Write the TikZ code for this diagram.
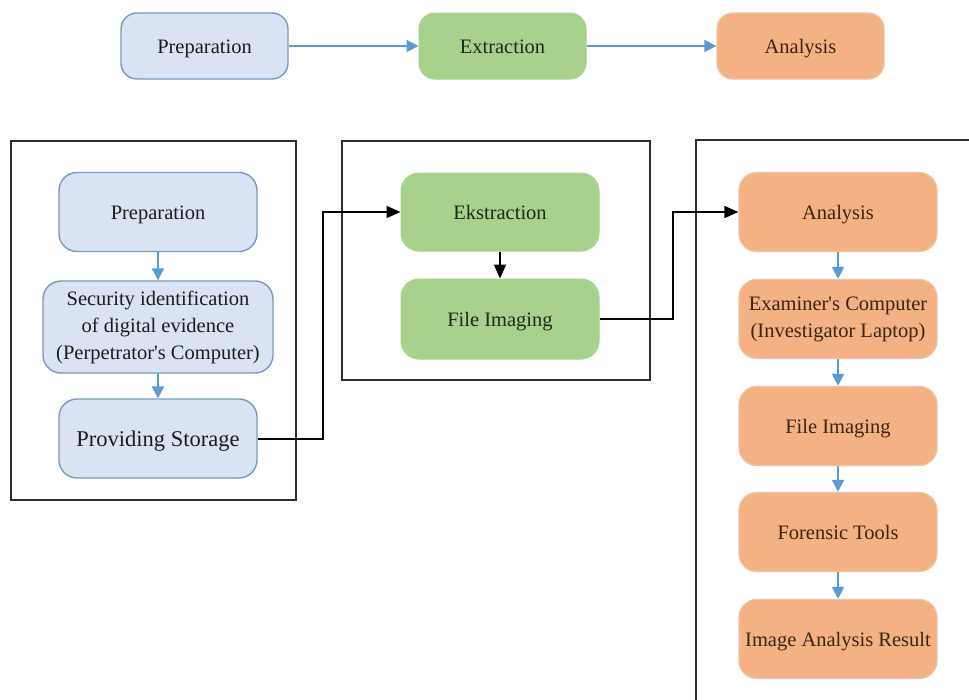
\documentclass[tikz,border=0pt]{standalone}
\usepackage{fontspec}
\setmainfont{Liberation Serif}[Ligatures=TeXOff]
\usetikzlibrary{arrows.meta}
\definecolor{bluefill}{HTML}{DAE3F3}
\definecolor{blueline}{HTML}{7A98C0}
\definecolor{greenfill}{HTML}{A9D18E}
\definecolor{orangefill}{HTML}{F4B183}
\definecolor{orangeline}{HTML}{EBC3A6}
\definecolor{arrowblue}{HTML}{5B9BD5}
\definecolor{framegray}{HTML}{2E2E2E}
\definecolor{textdark}{HTML}{1C1C1C}
\definecolor{textbrown}{HTML}{3A2414}
\definecolor{textgreen}{HTML}{1E2A18}
\begin{document}
\begin{tikzpicture}[x=1pt,y=-1pt,
  basebox/.style={rounded corners=18pt, inner sep=0pt, align=center,
    font=\fontsize{20.5pt}{27pt}\selectfont},
  oneline/.style={text height=14pt, text depth=0pt},
  bluebox/.style={basebox, fill=bluefill, draw=blueline, line width=1.4pt, text=textdark},
  greenbox/.style={basebox, fill=greenfill, draw=greenfill, line width=1pt, text=textgreen},
  orangebox/.style={basebox, fill=orangefill, draw=orangeline, line width=1.4pt, text=textbrown},
  frameline/.style={draw=framegray, line width=2pt},
  blueflow/.style={draw=arrowblue, line width=2pt, -{Triangle[length=12pt,width=12pt]}},
  blackflow/.style={draw=black, line width=2pt, -{Triangle[length=14pt,width=12pt]}}
]
\useasboundingbox (0,0) rectangle (969,699);
\fill[white] (0,0) rectangle (969,699);

% top row
\node[bluebox, oneline, minimum width=167pt, minimum height=66pt, rounded corners=16pt] (tprep) at (204.5,46) {Preparation};
\node[greenbox, oneline, minimum width=167pt, minimum height=66pt, rounded corners=16pt] (text) at (502.5,46) {Extraction};
\node[orangebox, oneline, minimum width=167pt, minimum height=66pt, rounded corners=16pt] (tana) at (800.5,46) {Analysis};
\draw[blueflow] (tprep.east) -- (text.west);
\draw[blueflow] (text.east) -- (tana.west);

% frames
\draw[frameline] (11,141) rectangle (296,500);
\draw[frameline] (342,141) rectangle (650,380);
\draw[frameline] (696,705) -- (696,140) -- (975,140);

% left column
\node[bluebox, oneline, minimum width=198pt, minimum height=79pt] (lprep) at (158,212) {Preparation};
\node[bluebox, minimum width=230pt, minimum height=92pt] (lsec) at (158,327) {Security identification\\of digital evidence\\(Perpetrator's Computer)};
\node[bluebox, oneline, minimum width=198pt, minimum height=79pt, font=\fontsize{22.5pt}{27pt}\selectfont, text height=15pt] (lstor) at (158,438.5) {Providing Storage};
\draw[blueflow] (lprep.south) -- (lsec.north);
\draw[blueflow] (lsec.south) -- (lstor.north);

% middle column
\node[greenbox, oneline, minimum width=198pt, minimum height=78pt] (mext) at (500,212) {Ekstraction};
\node[greenbox, oneline, minimum width=198pt, minimum height=80pt] (mfi) at (500,319) {File Imaging};
\draw[blackflow] (mext.south) -- (mfi.north);

% right column
\node[orangebox, oneline, minimum width=198pt, minimum height=79pt] (rana) at (838,212) {Analysis};
\node[orangebox, minimum width=198pt, minimum height=79pt] (rexa) at (838,319) {Examiner's Computer\\(Investigator Laptop)};
\node[orangebox, oneline, minimum width=198pt, minimum height=79pt] (rfi) at (838,426) {File Imaging};
\node[orangebox, oneline, minimum width=198pt, minimum height=79pt] (rft) at (838,532) {Forensic Tools};
\node[orangebox, oneline, minimum width=198pt, minimum height=79pt] (riar) at (838,639) {Image Analysis Result};
\draw[blueflow] (rana.south) -- (rexa.north);
\draw[blueflow] (rexa.south) -- (rfi.north);
\draw[blueflow] (rfi.south) -- (rft.north);
\draw[blueflow] (rft.south) -- (riar.north);

% cross connectors
\draw[blackflow] (lstor.east) -- (323,438.5) -- (323,212) -- (mext.west);
\draw[blackflow] (mfi.east) -- (673,319) -- (673,212) -- (rana.west);
\end{tikzpicture}
\end{document}
